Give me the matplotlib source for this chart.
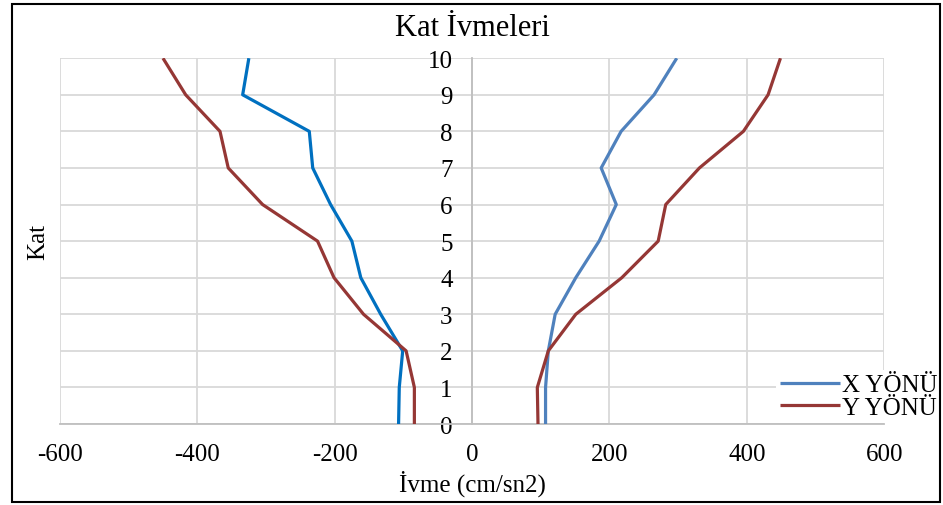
import matplotlib as mpl
mpl.use('Agg')
import matplotlib.pyplot as plt
from matplotlib.patches import Rectangle

plt.rcParams['font.family'] = ['Liberation Serif', 'DejaVu Serif']
plt.rcParams['axes.unicode_minus'] = False

kat = [0, 1, 2, 3, 4, 5, 6, 7, 8, 9, 10]
x_neg = [-107, -106, -101, -133, -162, -175, -206, -232, -237, -334, -325]
y_neg = [-84, -84, -96, -158, -201, -225, -305, -355, -367, -417, -450]
x_pos = [107, 107, 111, 121, 151, 185, 210, 188, 217, 265, 298]
y_pos = [96, 95, 111, 151, 218, 271, 282, 331, 395, 431, 449]

xticks = [-600, -400, -200, 0, 200, 400, 600]

fig = plt.figure(figsize=(9.43, 5.06), dpi=100)
ax = fig.add_axes([0.0636, 0.160, 0.874, 0.723])

c_xn = '#0070C0'
c_x = '#4F81BD'
c_y = '#953735'

ax.plot(x_neg, kat, color=c_xn, lw=2.3, solid_capstyle='butt', zorder=3)
ax.plot(y_neg, kat, color=c_y, lw=2.3, solid_capstyle='butt', zorder=3)
ax.plot(x_pos, kat, color=c_x, lw=2.3, solid_capstyle='butt', label='X YÖNÜ', zorder=3)
ax.plot(y_pos, kat, color=c_y, lw=2.3, solid_capstyle='butt', label='Y YÖNÜ', zorder=3)

ax.set_xlim(-600, 600)
ax.set_ylim(0, 10)
ax.set_xticks(xticks)
ax.set_yticks(kat)
ax.grid(True, color='#d9d9d9', lw=1.3)
ax.set_axisbelow(True)

for s in ['top', 'right']:
    ax.spines[s].set_visible(False)
ax.spines['left'].set_position(('data', 0))
ax.spines['left'].set_color('#bfbfbf')
ax.spines['left'].set_linewidth(1.3)
ax.spines['bottom'].set_color('#bfbfbf')
ax.spines['bottom'].set_linewidth(1.3)
ax.tick_params(length=0, labelsize=18)
ax.tick_params(axis='x', pad=14)
ax.tick_params(axis='y', pad=14)

ax.set_title('Kat İvmeleri', fontsize=22, pad=17)
ax.set_xlabel('İvme (cm/sn2)', fontsize=18, labelpad=3)
ax.text(-0.026, 0.5, 'Kat', transform=ax.transAxes, rotation=90,
        fontsize=18, ha='center', va='center')

leg = ax.legend(loc='lower right', bbox_to_anchor=(1.085, -0.03), frameon=True,
                fontsize=18, handlelength=2.4, handletextpad=0.1,
                labelspacing=0.0, borderpad=0.15)
leg.get_frame().set_edgecolor('none')
leg.get_frame().set_facecolor('white')
leg.get_frame().set_alpha(1)

fig.patches.append(Rectangle((0.013, 0.006), 0.984, 0.985, transform=fig.transFigure,
                             fill=False, edgecolor='black', lw=1.5))

fig.savefig('out.png', dpi=100)
